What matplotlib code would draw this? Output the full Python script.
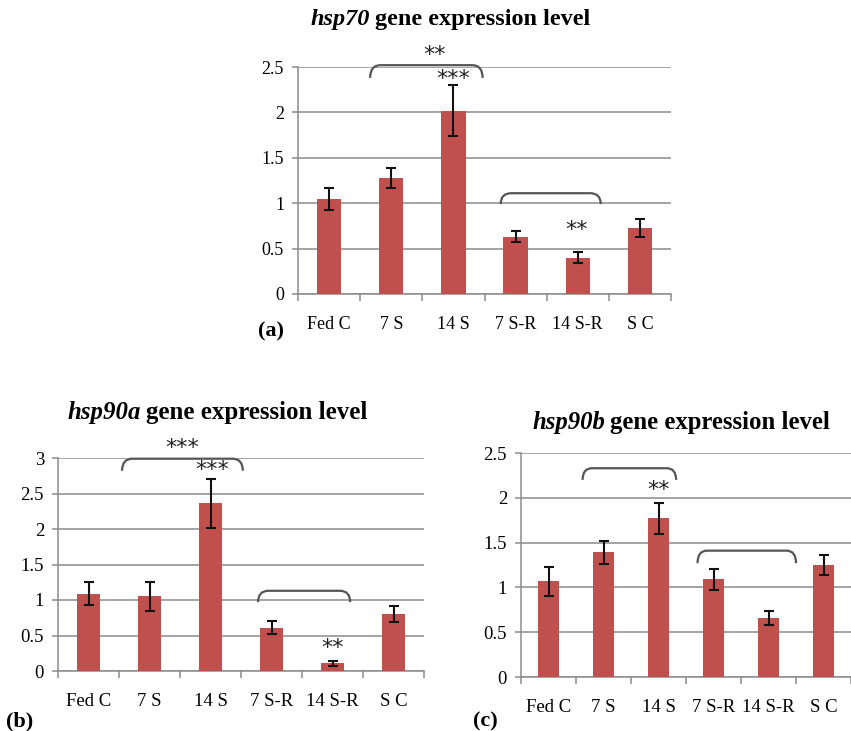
import matplotlib
matplotlib.use("Agg")
import matplotlib.pyplot as plt
from matplotlib.path import Path
from matplotlib.patches import PathPatch
import numpy as np

categories = ["Fed C", "7 S", "14 S", "7 S-R", "14 S-R", "S C"]

hsp70_vals = [1.05, 1.28, 2.02, 0.63, 0.40, 0.73]
hsp70_err = [0.12, 0.11, 0.285, 0.06, 0.064, 0.10]

hsp90a_vals = [1.09, 1.05, 2.36, 0.61, 0.11, 0.80]
hsp90a_err = [0.16, 0.21, 0.347, 0.09, 0.033, 0.113]

hsp90b_vals = [1.07, 1.39, 1.77, 1.09, 0.66, 1.25]
hsp90b_err = [0.163, 0.13, 0.174, 0.118, 0.079, 0.114]

W, H = 851, 731
fig = plt.figure(figsize=(W / 100, H / 100), dpi=100)
SERIF = "Liberation Serif"
BAR = "#C0504D"
GRID = "#8C8C8C"


def px_axes(l, t, r, b):
    return fig.add_axes([l / W, 1 - b / H, (r - l) / W, (b - t) / H])


def bracket(ax, x0, x1, ytop, yend, dx=0.17):
    verts = [(x0, yend), (x0, ytop), (x0 + dx, ytop),
             (x1 - dx, ytop), (x1, ytop), (x1, yend)]
    codes = [Path.MOVETO, Path.CURVE3, Path.CURVE3,
             Path.LINETO, Path.CURVE3, Path.CURVE3]
    ax.add_patch(PathPatch(Path(verts, codes), fill=False, edgecolor="#555555",
                           lw=1.6, clip_on=False, zorder=5))


def star(ax, x, y, s, fs=16):
    ax.text(x, y, s, ha="center", va="center", fontsize=fs, family="DejaVu Sans",
            color="#222222", clip_on=False, zorder=6)


def panel(ax, vals, errs, ymax, ystep, fs_tick, xlim=(-0.5, 5.5)):
    x = np.arange(len(categories))
    ax.bar(x, vals, width=0.39, color=BAR, zorder=3)
    ax.errorbar(x, vals, yerr=errs, fmt="none", ecolor="#111111", elinewidth=1.5,
                capsize=3.8, capthick=1.5, zorder=4)
    ax.set_ylim(0, ymax)
    ax.set_xlim(*xlim)
    ticks = np.arange(0, ymax + 1e-9, ystep)
    ax.set_yticks(ticks)
    ax.set_yticklabels([("%g" % t) for t in ticks], family=SERIF, fontsize=fs_tick)
    ax.yaxis.grid(True, color=GRID, lw=1.1, zorder=0)
    ax.set_xticks(x)
    ax.set_xticklabels(categories, family=SERIF, fontsize=fs_tick)
    ax.set_xticks(np.arange(-0.5, 6, 1.0), minor=True)
    ax.tick_params(axis="x", which="major", length=0, pad=15.5)
    ax.tick_params(axis="x", which="minor", length=5, color=GRID, width=1.1)
    ax.tick_params(axis="y", length=4, color=GRID, width=1.1, pad=6)
    for s in ("top", "right"):
        ax.spines[s].set_visible(False)
    for s in ("left", "bottom"):
        ax.spines[s].set_color(GRID)
        ax.spines[s].set_linewidth(1.1)
    ax.set_facecolor("none")


def title(xr, y, gene, fs):
    fig.text(xr / W, 1 - y / H, gene, ha="right", va="center", fontsize=fs,
             family=SERIF, style="italic", weight="bold")
    fig.text(xr / W + 0.006, 1 - y / H, "gene expression level", ha="left", va="center",
             fontsize=fs, family=SERIF, weight="bold")


# Panel a
axa = px_axes(298, 67, 671, 294)
panel(axa, hsp70_vals, hsp70_err, 2.5, 0.5, 13)
bracket(axa, 0.66, 2.47, 2.52, 2.38)
star(axa, 1.70, 2.63, "**")
star(axa, 2.0, 2.37, "***")
bracket(axa, 2.76, 4.37, 1.11, 0.99)
star(axa, 3.98, 0.71, "**")
title(370, 20, "hsp70", 17.5)
fig.text(271 / W, 1 - 331 / H, "(a)", ha="center", va="center", fontsize=16,
         family=SERIF, weight="bold")

# Panel b
axb = px_axes(58, 458, 424, 671)
panel(axb, hsp90a_vals, hsp90a_err, 3.0, 0.5, 13.5)
bracket(axb, 0.55, 2.53, 2.99, 2.82)
star(axb, 1.53, 3.14, "***")
star(axb, 2.02, 2.83, "***")
bracket(axb, 2.78, 4.29, 1.13, 0.97)
star(axb, 4.0, 0.32, "**")
title(141, 412, "hsp90a", 17.9)
fig.text(20 / W, 1 - 721 / H, "(b)", ha="center", va="center", fontsize=16,
         family=SERIF, weight="bold")

# Panel c
axc = px_axes(521, 453, 851, 677)
panel(axc, hsp90b_vals, hsp90b_err, 2.5, 0.5, 13.5, xlim=(-0.5, 5.35))
bracket(axc, 0.62, 2.32, 2.33, 2.20)
star(axc, 2.0, 2.09, "**")
bracket(axc, 2.71, 4.50, 1.41, 1.27)
title(605, 423, "hsp90b", 17.8)
fig.text(485 / W, 1 - 721 / H, "(c)", ha="center", va="center", fontsize=16,
         family=SERIF, weight="bold")

fig.savefig("out.png", dpi=100, facecolor="white")
